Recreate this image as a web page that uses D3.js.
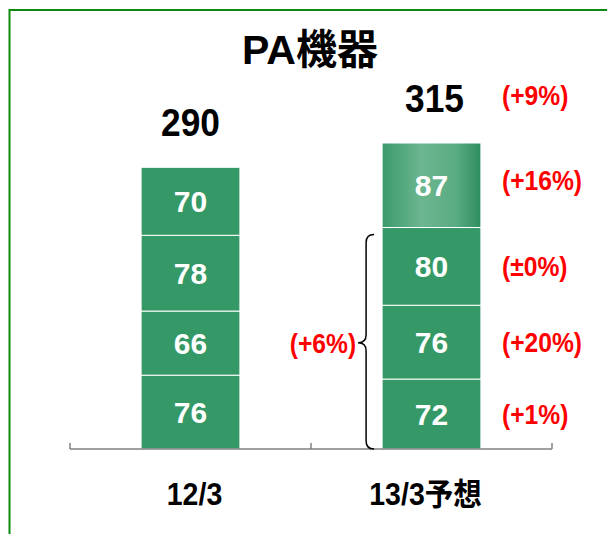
<!DOCTYPE html>
<html>

<head>
    <meta charset='utf-8'>
    <title>PA機器</title>
    <script type="text/javascript" src="https://cdnjs.cloudflare.com/ajax/libs/d3/7.8.5/d3.min.js"></script>
    <style>
        body { margin: 0; background: #fff; }
        text { font-family: "Liberation Sans", "Noto Sans CJK JP", sans-serif; }
    </style>
</head>

<body>
    <script>
        const categories = ["12/3", "13/3予想"];
        // segment values, bottom to top
        const segments12 = [76, 66, 78, 70];
        const segments13 = [72, 76, 80, 87];
        const totals = [290, 315];
        const segGrowth = ["(+1%)", "(+20%)", "(±0%)", "(+16%)"];
        const totalGrowth = "(+9%)";
        const bracketGrowth = "(+6%)";

        const w = 607;
        const h = 534;
        const green = "#359967";

        const x = d3.scaleBand()
            .domain(categories)
            .range([70, 552])
            .padding(0);
        const y = d3.scaleLinear()
            .domain([0, 315])
            .range([449, 143]);

        const barW = x.bandwidth() * 0.41;
        const barX = c => x(c) + (x.bandwidth() - barW) / 2;

        const svg = d3.select("body")
            .append("svg")
            .attr("width", w)
            .attr("height", h);

        const defs = svg.append("defs");
        const grad = defs.append("linearGradient")
            .attr("id", "cyl")
            .attr("x1", "0%").attr("x2", "100%")
            .attr("y1", "0%").attr("y2", "0%");
        grad.append("stop").attr("offset", "0%").attr("stop-color", "#3b9a6b");
        grad.append("stop").attr("offset", "40%").attr("stop-color", "#6cb690");
        grad.append("stop").attr("offset", "75%").attr("stop-color", "#5aab82");
        grad.append("stop").attr("offset", "100%").attr("stop-color", "#2f8d5e");

        // condensed red label, drawn with a horizontal squeeze
        function redLabel(px, py, str, anchor) {
            svg.append("text")
                .attr("transform", `translate(${px},${py}) scale(0.88,1)`)
                .attr("dy", "0.36em")
                .attr("text-anchor", anchor || "start")
                .attr("font-size", 28)
                .attr("font-weight", "bold")
                .attr("fill", "#ff0000")
                .text(str);
        }

        // frame
        svg.append("rect")
            .attr("x", 9.5).attr("y", 10)
            .attr("width", 620).attr("height", 560)
            .attr("fill", "none")
            .attr("stroke", "#0f8a0f")
            .attr("stroke-width", 2);

        svg.append("text")
            .attr("x", 310).attr("y", 64)
            .attr("text-anchor", "middle")
            .attr("font-size", 41)
            .attr("font-weight", "bold")
            .text("PA機器");

        const series = [segments12, segments13];
        series.forEach((vals, i) => {
            const cat = categories[i];
            const starts = [0, ...d3.cumsum(vals)];
            const g = svg.append("g");
            g.selectAll("rect")
                .data(vals)
                .enter()
                .append("rect")
                .attr("x", barX(cat))
                .attr("width", barW)
                .attr("y", (d, j) => y(starts[j] + d))
                .attr("height", (d, j) => y(starts[j]) - y(starts[j] + d))
                .attr("fill", (d, j) => (i === 1 && j === vals.length - 1) ? "url(#cyl)" : green)
                .attr("stroke", "#fff")
                .attr("stroke-width", 1);

            g.selectAll("text")
                .data(vals)
                .enter()
                .append("text")
                .attr("x", barX(cat) + barW / 2)
                .attr("y", (d, j) => y(starts[j] + d / 2))
                .attr("dy", "0.36em")
                .attr("text-anchor", "middle")
                .attr("font-size", 30)
                .attr("font-weight", "bold")
                .attr("fill", "#fff")
                .text(d => d);
        });

        // totals
        svg.selectAll(".total")
            .data(totals)
            .enter()
            .append("text")
            .attr("class", "total")
            .attr("transform", (d, i) => `translate(${barX(categories[i]) + barW / 2 + (i === 1 ? 3 : 0)},${y(d) - 31}) scale(0.93,1)`)
            .attr("text-anchor", "middle")
            .attr("font-size", 38)
            .attr("font-weight", "bold")
            .text(d => d);

        // axis
        const axis = svg.append("g").attr("stroke", "#808080").attr("stroke-width", 1.5);
        axis.append("line")
            .attr("x1", x.range()[0]).attr("x2", x.range()[1])
            .attr("y1", y(0)).attr("y2", y(0));
        const tickPos = [...categories.map(c => x(c)), x.range()[1]];
        axis.selectAll(".tick")
            .data(tickPos)
            .enter()
            .append("line")
            .attr("x1", d => d).attr("x2", d => d)
            .attr("y1", y(0)).attr("y2", y(0) - 6);

        svg.selectAll(".cat")
            .data(categories)
            .enter()
            .append("text")
            .attr("class", "cat")
            .attr("transform", (d, i) => `translate(${x(d) + x.bandwidth() / 2 + (i === 0 ? 4 : -6)},505) scale(0.92,1)`)
            .attr("text-anchor", "middle")
            .attr("font-size", 31)
            .attr("font-weight", "bold")
            .text(d => d);

        // growth labels for forecast bar
        const starts13 = [0, ...d3.cumsum(segments13)];
        const redX = 502;
        segGrowth.forEach((s, j) => {
            redLabel(redX, y(starts13[j] + segments13[j] / 2) + (j === 3 ? -5 : 0), s);
        });
        redLabel(redX, y(totals[1]) - 48, totalGrowth);

        // brace over the lower three segments
        const bTop = y(starts13[3]) + 7;
        const bBot = y(0);
        const bMid = (bTop + bBot) / 2 + 1;
        const bx = barX(categories[1]) - 8;
        const r = 8;
        const brace = d3.path();
        brace.moveTo(bx, bTop);
        brace.quadraticCurveTo(bx - r, bTop, bx - r, bTop + r);
        brace.lineTo(bx - r, bMid - r);
        brace.quadraticCurveTo(bx - r, bMid, bx - 2 * r, bMid);
        brace.quadraticCurveTo(bx - r, bMid, bx - r, bMid + r);
        brace.lineTo(bx - r, bBot - r);
        brace.quadraticCurveTo(bx - r, bBot, bx, bBot);
        svg.append("path")
            .attr("d", brace.toString())
            .attr("fill", "none")
            .attr("stroke", "#000")
            .attr("stroke-width", 1.5);

        redLabel(bx - 2 * r - 2, bMid, bracketGrowth, "end");
    </script>
</body>

</html>
